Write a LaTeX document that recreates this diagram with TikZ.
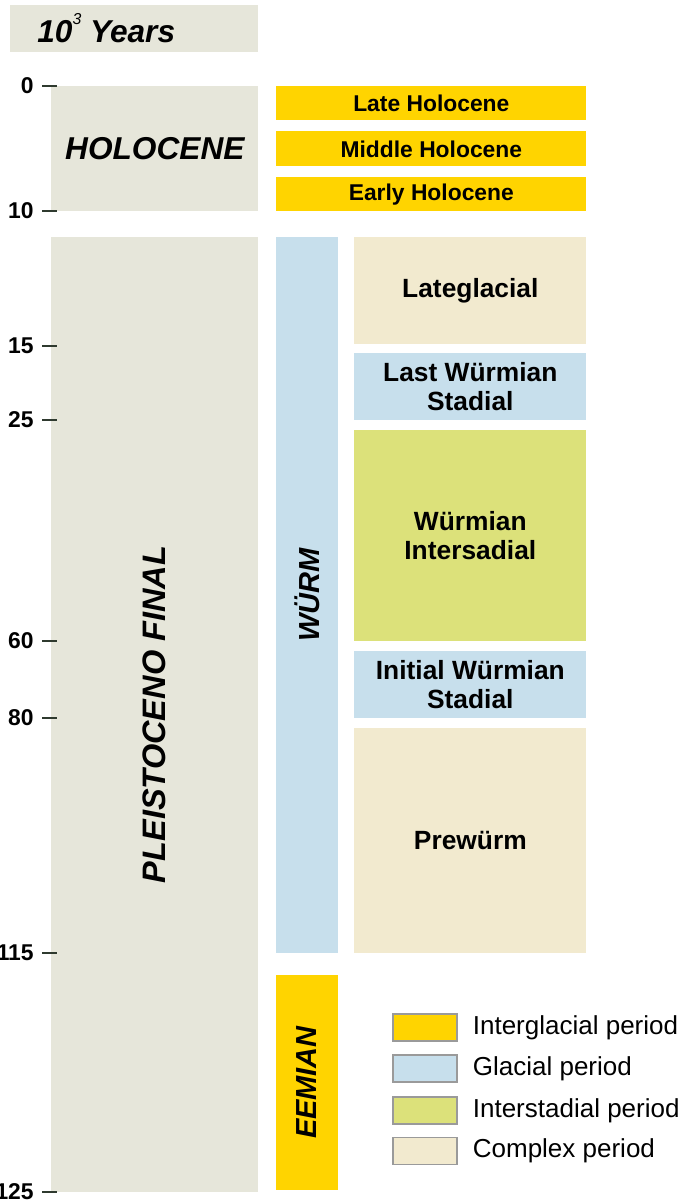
\documentclass[tikz,border=0pt]{standalone}
\usepackage{fontspec}
\setmainfont{Liberation Sans}
\usepackage{xcolor}
\usetikzlibrary{positioning}
\definecolor{interglacial}{HTML}{FFD400}
\definecolor{glacial}{HTML}{C7DFEC}
\definecolor{interstadial}{HTML}{DCE17A}
\definecolor{complexper}{HTML}{F2EACF}
\definecolor{epochgray}{HTML}{E6E6DA}
\definecolor{tickdark}{HTML}{2F3A2F}
\definecolor{legendedge}{HTML}{9A9A9A}
\tikzset{
  epochbox/.style = {
    rectangle,
    fill=epochgray,
    inner sep=0pt,
    font=\fontsize{18}{21}\selectfont\bfseries\itshape
  },
  stagebar/.style = {
    rectangle,
    anchor=north west,
    inner sep=0pt,
    align=center,
    font=\fontsize{15}{16.5}\selectfont\bfseries
  },
  stagerot/.style = {
    rectangle,
    rotate=90,
    inner sep=0pt,
    minimum height=1.24cm,
    font=\fontsize{16.5}{19}\selectfont\bfseries\itshape
  },
  ticklabel/.style = {
    anchor=east,
    inner sep=0pt,
    font=\fontsize{13}{15}\selectfont\bfseries
  },
  tickmark/.style = {
    draw=tickdark,
    line width=0.7pt
  },
  legendbox/.style = {
    rectangle,
    draw=legendedge,
    line width=0.6pt,
    minimum width=1.28cm,
    minimum height=0.54cm
  },
  legendtext/.style = {
    anchor=west,
    inner sep=0pt,
    font=\fontsize{14.8}{17}\selectfont
  }
}
\begin{document}
\begin{tikzpicture}[x=0.02cm,y=-0.02cm]
    \useasboundingbox (0,0) rectangle (678,1200);
    % epochs
    \node[epochbox, anchor=north west, minimum width=4.96cm, minimum height=0.94cm] (header) at (10,5) {};
    \node[anchor=west, inner sep=0pt, font=\fontsize{18}{20}\selectfont\bfseries\itshape] (headertext) at (37,28) {10\raisebox{0.55em}{\fontsize{9}{10}\selectfont\mdseries 3} Years};
    \node[epochbox, anchor=north west, minimum width=4.14cm, minimum height=2.5cm] (holocene) at (51,86) {HOLOCENE};
    \node[epochbox, rotate=90, minimum width=19.1cm, minimum height=4.14cm, font=\fontsize{18.5}{21}\selectfont\bfseries\itshape] (pleisto) at (154.5,714.5) {PLEISTOCENO FINAL};
    % ticks
    \foreach \yr/\py in {0/86,10/211,15/346,25/420,60/641,80/718,115/953,125/1192} {
      \node[ticklabel] (t\yr) at (34,\py) {\yr};
      \draw[tickmark] (42,\py) -- (57,\py);
    }
    % holocene stages
    \node[stagebar, fill=interglacial, minimum width=6.2cm, minimum height=0.68cm, font=\fontsize{13}{15}\selectfont\bfseries] (late) at (276,86) {Late Holocene};
    \node[stagebar, fill=interglacial, minimum width=6.2cm, minimum height=0.7cm, font=\fontsize{13}{15}\selectfont\bfseries] (middle) at (276,131) {Middle Holocene};
    \node[stagebar, fill=interglacial, minimum width=6.2cm, minimum height=0.68cm, font=\fontsize{13}{15}\selectfont\bfseries] (early) at (276,177) {Early Holocene};
    % wurm and eemian
    \node[stagerot, fill=glacial, minimum width=14.32cm] (wurm) at (307,595) {WÜRM};
    \node[stagerot, fill=interglacial, minimum width=4.3cm] (eemian) at (307,1082.5) {EEMIAN};
    % wurm substages
    \node[stagebar, fill=complexper, minimum width=4.64cm, minimum height=2.14cm] (lateglacial) at (354,237) {Lateglacial};
    \node[stagebar, fill=glacial, minimum width=4.64cm, minimum height=1.34cm] (laststadial) at (354,353) {Last Würmian\\Stadial};
    \node[stagebar, fill=interstadial, minimum width=4.64cm, minimum height=4.22cm] (interstadial) at (354,430) {Würmian\\Intersadial};
    \node[stagebar, fill=glacial, minimum width=4.64cm, minimum height=1.34cm] (initstadial) at (354,651) {Initial Würmian\\Stadial};
    \node[stagebar, fill=complexper, minimum width=4.64cm, minimum height=4.5cm] (prewurm) at (354,728) {Prewürm};
    % legend
    \node[legendbox, fill=interglacial] (lginter) at (425,1027.5) {};
    \node[legendbox, fill=glacial] (lgglac) at (425,1068.5) {};
    \node[legendbox, fill=interstadial] (lgstad) at (425,1110.5) {};
    \node[legendbox, fill=complexper] (lgcomp) at (425,1151) {};
    \node[legendtext, right=0.3cm of lginter] (lgintertext) {Interglacial period};
    \node[legendtext, right=0.3cm of lgglac] (lgglactext) {Glacial period};
    \node[legendtext, right=0.3cm of lgstad] (lgstadtext) {Interstadial period};
    \node[legendtext, right=0.3cm of lgcomp] (lgcomptext) {Complex period};
\end{tikzpicture}
\end{document}
